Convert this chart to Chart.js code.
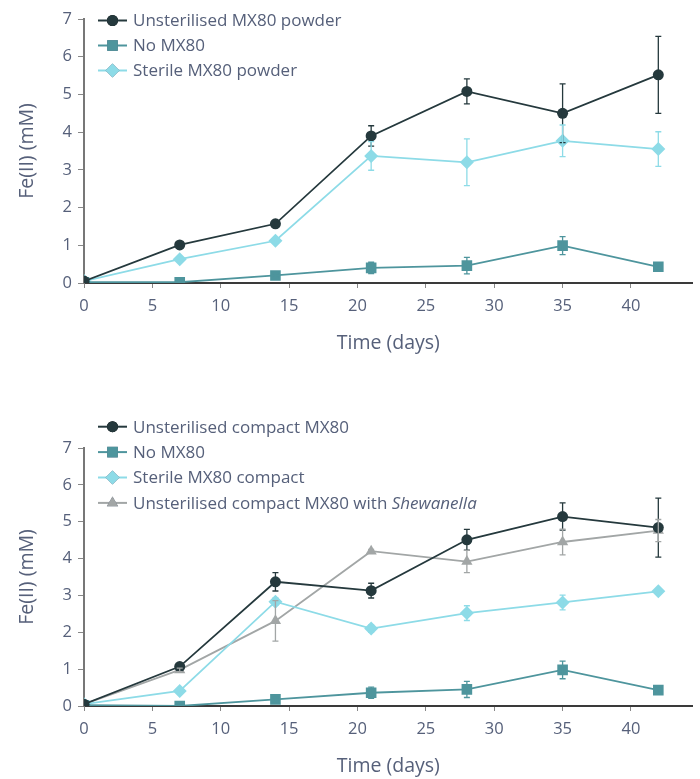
<!DOCTYPE html>
<html>
<head>
<meta charset="utf-8">
<script src="https://cdn.jsdelivr.net/npm/chart.js@4.4.0/dist/chart.umd.min.js"></script>
<style>
  body { margin: 0; background: #fff; }
  .panel { position: absolute; left: 0; }
</style>
</head>
<body>
<div class="panel" style="top:0"><canvas id="chartPowder" width="700" height="360"></canvas></div>
<div class="panel" style="top:380px"><canvas id="chartCompact" width="700" height="399"></canvas></div>
<script>
// sampling days
const days = [0, 7, 14, 21, 28, 35, 42];

// top panel: powder
const powderUnsterilised = [0.05, 1.01, 1.57, 3.90, 5.08, 4.50, 5.52];
const powderUnsterilisedErr = [0, 0.03, 0.05, 0.27, 0.33, 0.78, 1.02];
const powderNoMx80 = [0.02, 0.02, 0.20, 0.40, 0.46, 0.99, 0.43];
const powderNoMx80Err = [0, 0, 0.05, 0.15, 0.22, 0.24, 0.05];
const powderSterile = [0.05, 0.63, 1.12, 3.37, 3.20, 3.77, 3.55];
const powderSterileErr = [0, 0.05, 0.05, 0.38, 0.62, 0.42, 0.46];

// bottom panel: compact
const compactUnsterilised = [0.05, 1.07, 3.37, 3.13, 4.51, 5.14, 4.84];
const compactUnsterilisedErr = [0, 0.05, 0.25, 0.20, 0.28, 0.37, 0.80];
const compactNoMx80 = [0.02, 0.0, 0.18, 0.36, 0.45, 0.98, 0.43];
const compactNoMx80Err = [0, 0, 0.05, 0.15, 0.22, 0.24, 0.05];
const compactSterile = [0.05, 0.41, 2.83, 2.10, 2.52, 2.81, 3.11];
const compactSterileErr = [0, 0.05, 0.10, 0.10, 0.20, 0.20, 0.05];
const compactShewanella = [0.05, 0.98, 2.31, 4.20, 3.92, 4.45, 4.76];
const compactShewanellaErr = [0, 0.05, 0.55, 0.05, 0.30, 0.35, 0.30];

const xTitle = 'Time (days)';
const yTitle = 'Fe(II) (mM)';

const DARK = '#25393d';
const TEAL = '#4e959d';
const CYAN = '#8ddbe7';
const GREY = '#a2a6a6';
const TEXT = '#56607a';
const FONT = "'Open Sans', sans-serif";

const toPoints = (vals) => vals.map((v, i) => ({ x: days[i], y: v }));

const serie = (label, vals, errs, color, style, radius) => ({
    label : label,
    data : toPoints(vals),
    errors : errs,
    borderColor : color,
    backgroundColor : color,
    borderWidth : 1.8,
    pointStyle : style,
    pointRadius : radius,
    pointBorderWidth : 0,
    pointBackgroundColor : color,
    tension : 0
});

// error bars drawn with the chart's own scales
const errorBars = {
    id : 'errorBars',
    afterDatasetsDraw(chart) {
        const ctx = chart.ctx;
        const xs = chart.scales.x, ys = chart.scales.y;
        chart.data.datasets.forEach(ds => {
            if (!ds.errors) return;
            ctx.save();
            ctx.strokeStyle = ds.borderColor;
            ctx.lineWidth = 1.3;
            ds.data.forEach((p, i) => {
                const e = ds.errors[i];
                if (!e) return;
                const px = xs.getPixelForValue(p.x);
                const top = ys.getPixelForValue(p.y + e);
                const bot = ys.getPixelForValue(Math.max(0, p.y - e));
                ctx.beginPath();
                ctx.moveTo(px, top); ctx.lineTo(px, bot);
                ctx.moveTo(px - 3, top); ctx.lineTo(px + 3, top);
                ctx.moveTo(px - 3, bot); ctx.lineTo(px + 3, bot);
                ctx.stroke();
            });
            ctx.restore();
        });
    }
};

// legend with line + marker, drawn on the canvas
const lineLegend = {
    id : 'lineLegend',
    afterDraw(chart, args, opts) {
        const ctx = chart.ctx;
        ctx.save();
        chart.data.datasets.forEach((ds, i) => {
            const y = opts.top + i * opts.step;
            ctx.strokeStyle = ds.borderColor;
            ctx.lineWidth = 2;
            ctx.beginPath();
            ctx.moveTo(98, y); ctx.lineTo(127, y);
            ctx.stroke();
            Chart.helpers.drawPoint(ctx, {
                pointStyle : ds.pointStyle,
                radius : ds.pointRadius,
                borderWidth : 0,
                rotation : 0
            }, 112.5, y);
            ctx.fillStyle = ds.borderColor;
            ctx.fill();
            ctx.fillStyle = TEXT;
            ctx.textBaseline = 'middle';
            let x = 133;
            const parts = ds.legendParts || [[ds.label, '']];
            parts.forEach(([txt, st]) => {
                ctx.font = `${st} 17px ${FONT}`;
                ctx.fillText(txt, x, y + 1);
                x += ctx.measureText(txt).width;
            });
        });
        ctx.restore();
    }
};

const makeOptions = (pad, xHeight, xTitlePad, legendTop, legendStep) => ({
    responsive : false,
    animation : false,
    layout : { padding : { top : pad, right : 7, left : 0, bottom : 0 } },
    plugins : {
        legend : { display : false },
        tooltip : { enabled : false },
        lineLegend : { top : legendTop, step : legendStep }
    },
    scales : {
        x : {
            type : 'linear',
            min : 0,
            max : 44.5,
            afterFit : (s) => { s.height = xHeight; },
            border : { color : '#3a3a3a', width : 2 },
            grid : { drawOnChartArea : false, tickLength : 5, tickColor : '#888' },
            ticks : { stepSize : 5, includeBounds : false, padding : 8, color : TEXT, font : { family : FONT, size : 16.5 } },
            title : { display : true, text : xTitle, color : TEXT, font : { family : FONT, size : 19.5 }, padding : { top : 0, bottom : xTitlePad } }
        },
        y : {
            min : 0,
            max : 7,
            afterFit : (s) => { s.width = 84; },
            border : { color : '#777', width : 2 },
            grid : { drawOnChartArea : false, tickLength : 6, tickColor : '#888' },
            ticks : { stepSize : 1, padding : 6, color : TEXT, font : { family : FONT, size : 16.5 } },
            title : { display : true, text : yTitle, color : TEXT, font : { family : FONT, size : 19.5 }, padding : 16 }
        }
    }
});

new Chart(document.getElementById('chartPowder').getContext('2d'), {
    type : 'line',
    data : {
        datasets : [
            serie('Unsterilised MX80 powder', powderUnsterilised, powderUnsterilisedErr, DARK, 'circle', 5.5),
            serie('No MX80', powderNoMx80, powderNoMx80Err, TEAL, 'rect', 7.5),
            serie('Sterile MX80 powder', powderSterile, powderSterileErr, CYAN, 'rectRot', 7)
        ]
    },
    options : makeOptions(19, 77, 5, 20.5, 25),
    plugins : [errorBars, lineLegend]
});

const shewanella = serie('Unsterilised compact MX80 with Shewanella', compactShewanella, compactShewanellaErr, GREY, 'triangle', 6.5);
shewanella.legendParts = [['Unsterilised compact MX80 with ', ''], ['Shewanella', 'italic']];

new Chart(document.getElementById('chartCompact').getContext('2d'), {
    type : 'line',
    data : {
        datasets : [
            serie('Unsterilised compact MX80', compactUnsterilised, compactUnsterilisedErr, DARK, 'circle', 5.5),
            serie('No MX80', compactNoMx80, compactNoMx80Err, TEAL, 'rect', 7.5),
            serie('Sterile MX80 compact', compactSterile, compactSterileErr, CYAN, 'rectRot', 7),
            shewanella
        ]
    },
    options : makeOptions(68, 73, 1, 46.7, 25.4),
    plugins : [errorBars, lineLegend]
});
</script>
</body>
</html>
